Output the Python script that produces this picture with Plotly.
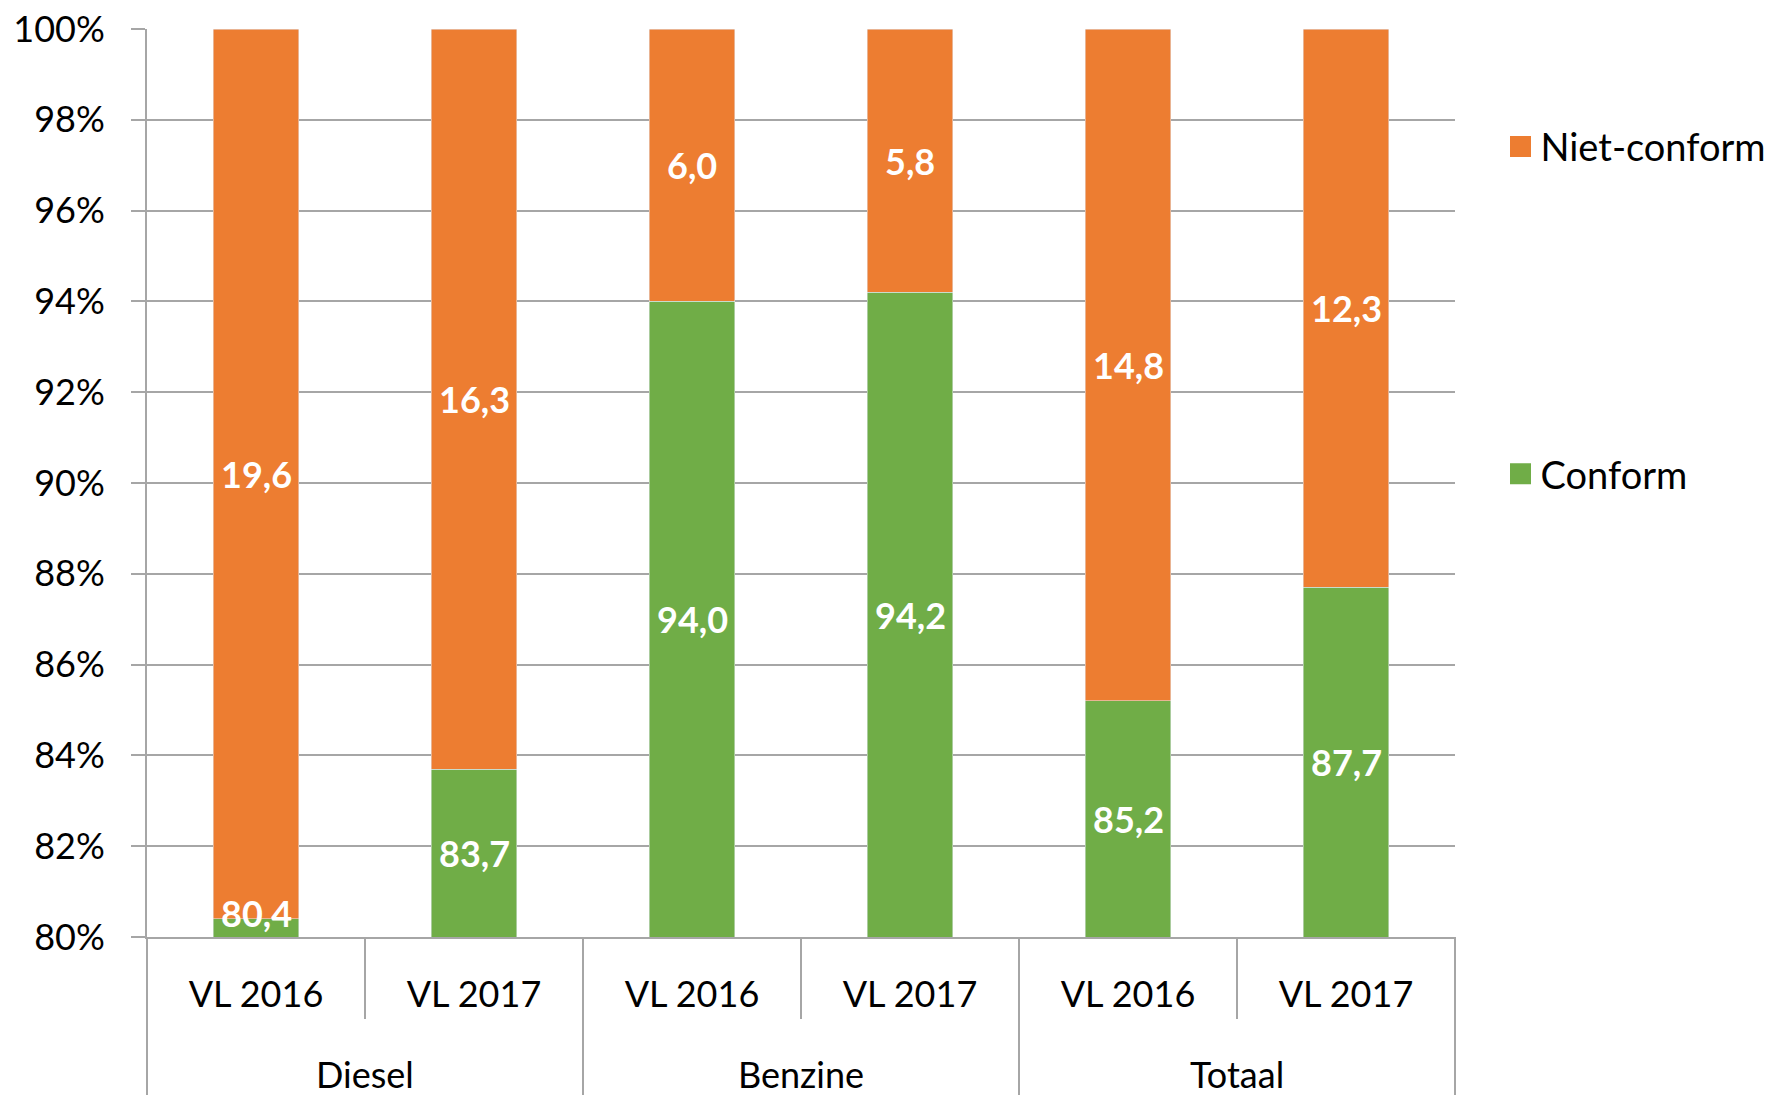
import plotly.graph_objects as go

groups = ["Diesel", "Benzine", "Totaal"]
years = ["VL 2016", "VL 2017"]
conform = [80.4, 83.7, 94.0, 94.2, 85.2, 87.7]
niet_conform = [19.6, 16.3, 6.0, 5.8, 14.8, 12.3]
y_ticks = [80, 82, 84, 86, 88, 90, 92, 94, 96, 98, 100]
y_ticktext = [f"{v}%" for v in y_ticks]

ORANGE = "#ED7D31"
GREEN = "#70AD47"
GRID = "#A6A6A6"
FONT = "Lato"

keys = [f"{g} {y}" for g in groups for y in years]
ticktext = [y for g in groups for y in years]
ymin, ymax = y_ticks[0], y_ticks[-1]

fig = go.Figure()
fig.add_bar(x=keys, y=conform, marker_color=GREEN, name="Conform", showlegend=False)
fig.add_bar(x=keys, y=niet_conform, marker_color=ORANGE, name="Niet-conform", showlegend=False)

# legend entries
fig.add_scatter(x=[None], y=[None], mode="markers", name="Niet-conform", legendgroup="a",
                marker=dict(symbol="square", size=16, color=ORANGE, line=dict(color=ORANGE, width=5)))
fig.add_scatter(x=[None], y=[None], mode="markers", name="Conform", legendgroup="b",
                marker=dict(symbol="square", size=16, color=GREEN, line=dict(color=GREEN, width=5)))

def fmt(v):
    return f"{v:.1f}".replace(".", ",")

LBL = dict(family=FONT, size=36, color="white", weight="bold")
annotations = []
for k, c, n in zip(keys, conform, niet_conform):
    if c - ymin < 1.0:
        annotations.append(dict(x=k, y=ymin, yanchor="bottom", text=fmt(c), showarrow=False, font=LBL))
    else:
        annotations.append(dict(x=k, y=(ymin + c) / 2, text=fmt(c), showarrow=False, font=LBL))
    annotations.append(dict(x=k, y=(c + ymax) / 2, text=fmt(n), showarrow=False, font=LBL))

ncat = len(keys)
for gi, g in enumerate(groups):
    annotations.append(dict(x=gi * len(years) + (len(years) - 1) / 2, y=-0.151, xref="x", yref="paper",
                            text=g, showarrow=False, yanchor="middle",
                            font=dict(family=FONT, size=36, color="black")))

shapes = []
for b in range(ncat + 1):
    is_group = b % len(years) == 0
    shapes.append(dict(type="line", xref="x domain", yref="paper", x0=b / ncat, x1=b / ncat,
                       y0=0, y1=-0.174 if is_group else -0.0903,
                       line=dict(color=GRID, width=2)))

fig.update_layout(
    width=1774, height=1087,
    margin=dict(l=139, r=326, t=21, b=158),
    barmode="stack", bargap=0.61,
    plot_bgcolor="white", paper_bgcolor="white",
    font=dict(family=FONT, color="black"),
    annotations=annotations, shapes=shapes,
    legend=dict(x=1.034, y=0.905, xanchor="left", yanchor="top", tracegroupgap=275,
                font=dict(family=FONT, size=38, color="black")),
    xaxis=dict(type="category", tickvals=keys, ticktext=ticktext, showline=True,
               linecolor=GRID, linewidth=2, ticks="", tickfont=dict(size=36),
               ticklabelstandoff=25, showgrid=False, automargin=False),
    yaxis=dict(range=[ymin, ymax], tickvals=y_ticks, ticktext=y_ticktext, showline=True,
               linecolor=GRID, linewidth=2, gridcolor=GRID, gridwidth=1.5,
               ticks="outside", ticklen=14, tickcolor=GRID, tickwidth=1.5,
               tickfont=dict(size=36), ticklabelstandoff=19, zeroline=False, automargin=False,
               ticklabeloverflow="allow"),
)

fig.write_html("out.html")
